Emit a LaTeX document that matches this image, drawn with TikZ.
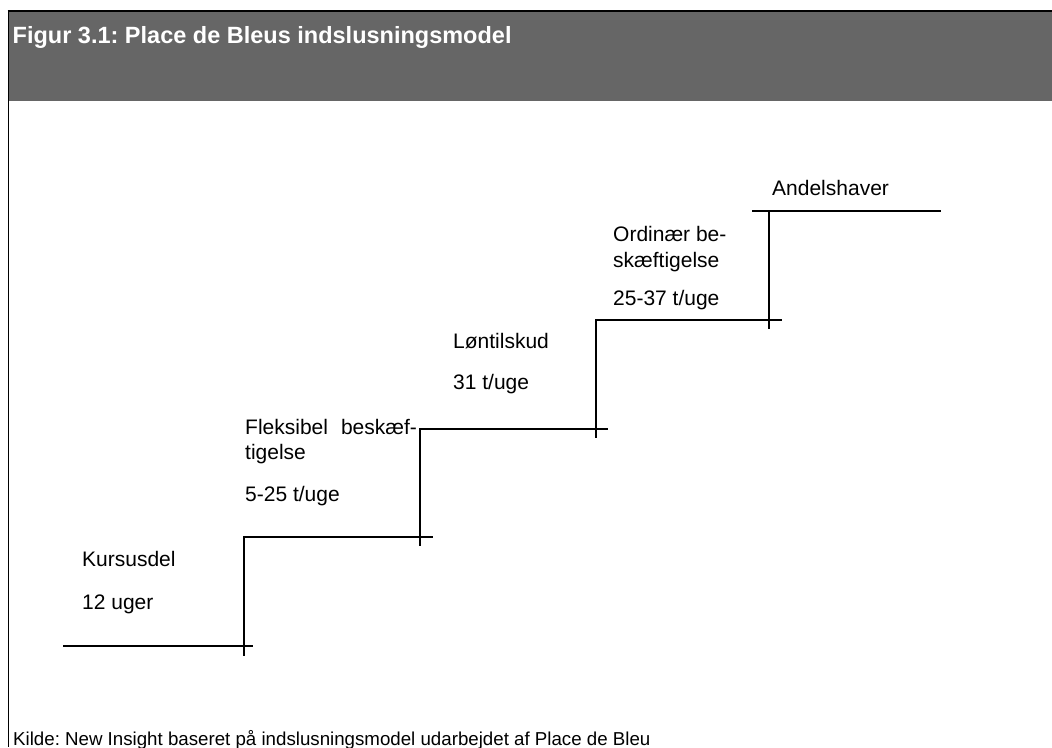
\documentclass[tikz,border=0pt]{standalone}
\usepackage{fontspec}
\setmainfont{Liberation Sans}
\frenchspacing
\definecolor{bandgray}{HTML}{666666}
\tikzset{
  stair/.style={line width=1.6pt, line cap=rect},
  lbl/.style={anchor=base west, inner sep=0pt, font=\fontsize{21}{24}\selectfont},
  ttl/.style={anchor=base west, inner sep=0pt, text=white, font=\fontsize{23.5}{28}\selectfont\bfseries},
  src/.style={anchor=base west, inner sep=0pt, font=\fontsize{18.7}{22}\selectfont},
}
\begin{document}
\begin{tikzpicture}[x=1pt,y=-1pt]
\useasboundingbox (0,0) rectangle (1052,747);
% header band
\fill[bandgray] (8,11) rectangle (1052,101);
\draw[line width=1.6pt] (7.5,11) -- (1052,11);
\draw[line width=1pt] (8,11) -- (8,747);
\node[ttl] (title) at (12.5,43) {Figur 3.1: Place de Bleus indslusningsmodel};
% stair coordinates
\coordinate (s0) at (64,646);
\coordinate (s0e) at (252,646);
\coordinate (v1b) at (244,655);
\coordinate (c1) at (244,537);
\coordinate (s1e) at (432,537);
\coordinate (v2b) at (420,545);
\coordinate (c2) at (420,429);
\coordinate (s2e) at (607,429);
\coordinate (v3b) at (596,437);
\coordinate (c3) at (596,320);
\coordinate (s3e) at (781,320);
\coordinate (v4b) at (769,328);
\coordinate (c4) at (769,211);
\coordinate (s4s) at (753,211);
\coordinate (s4e) at (940,211);
\draw[stair] (s0) -- (s0e);
\draw[stair] (v1b) -- (c1) -- (s1e);
\draw[stair] (v2b) -- (c2) -- (s2e);
\draw[stair] (v3b) -- (c3) -- (s3e);
\draw[stair] (v4b) -- (c4);
\draw[stair] (s4s) -- (s4e);
% labels
\node[lbl] (k1) at (82,566) {Kursusdel};
\node[lbl] (k2) at (82,609) {12 uger};
\node[lbl] (f1) at (245,434) {Fleksibel\hspace{13pt}beskæf-};
\node[lbl] (f2) at (245,459) {tigelse};
\node[lbl] (f3) at (245,501) {5-25 t/uge};
\node[lbl] (l1) at (453,348) {Løntilskud};
\node[lbl] (l2) at (453,389) {31 t/uge};
\node[lbl] (o1) at (613,241) {Ordinær be-};
\node[lbl] (o2) at (613,267) {skæftigelse};
\node[lbl] (o3) at (613,305) {25-37 t/uge};
\node[lbl] (a1) at (772,195) {Andelshaver};
% source
\node[src] (source) at (13,745) {Kilde: New Insight baseret på indslusningsmodel udarbejdet af Place de Bleu};
\end{tikzpicture}
\end{document}
